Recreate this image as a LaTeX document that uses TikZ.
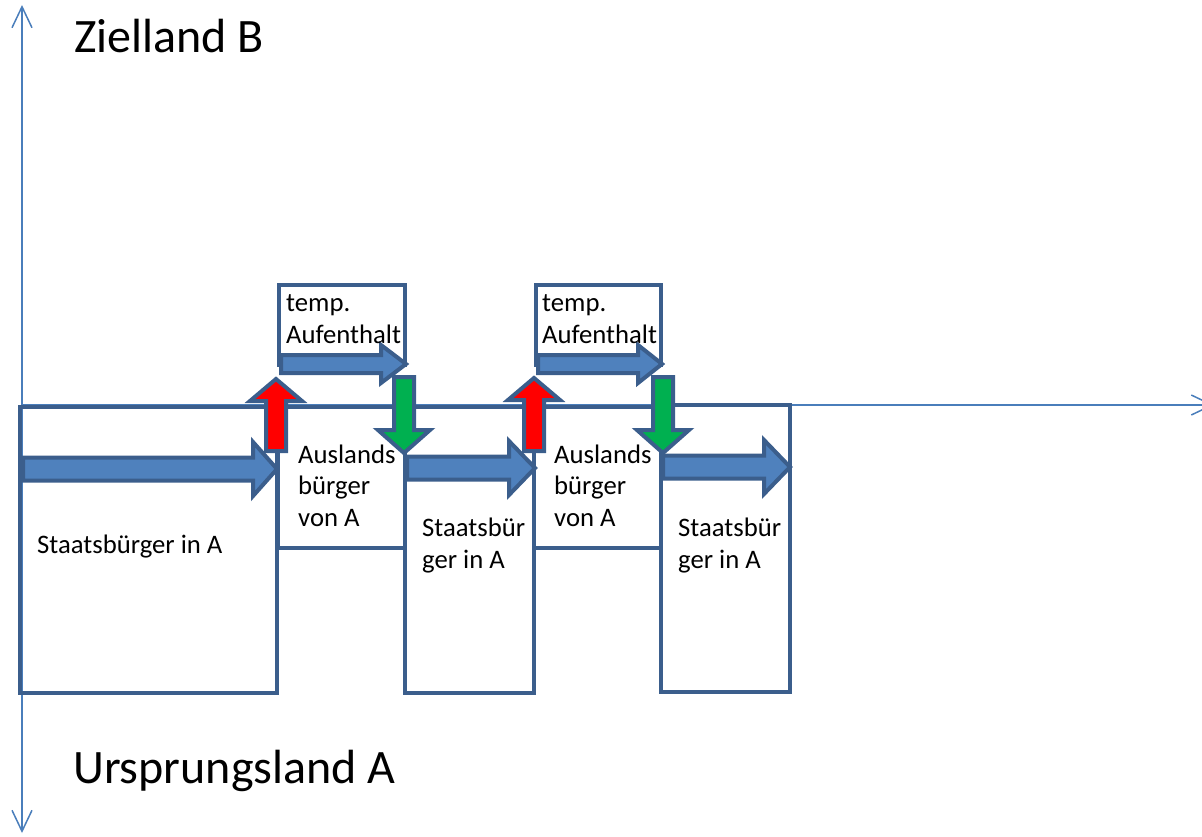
\documentclass[tikz,border=0pt]{standalone}
\usepackage{fontspec}
\setmainfont{Carlito}
\usetikzlibrary{arrows.meta}

\definecolor{axisblue}{HTML}{4A7EBB}
\definecolor{edgeblue}{HTML}{3B5E8C}
\definecolor{fillblue}{HTML}{4F81BD}
\definecolor{upred}{HTML}{FF0000}
\definecolor{downgreen}{HTML}{00B050}

% horizontal block arrow: tail x, head-base x, tip x, centre y, shaft half-width, head half-width
\newcommand\hblock[7][fillblue]{%
  \filldraw[blockarrow, fill=#1] (#2,#5-#6) -- (#3,#5-#6) -- (#3,#5-#7) -- (#4,#5)
    -- (#3,#5+#7) -- (#3,#5+#6) -- (#2,#5+#6) -- cycle;}
% vertical block arrow: centre x, tail y, head-base y, tip y, shaft half-width, head half-width
\newcommand\vblock[7][fillblue]{%
  \filldraw[blockarrow, fill=#1] (#2-#6,#3) -- (#2-#6,#4) -- (#2-#7,#4) -- (#2,#5)
    -- (#2+#7,#4) -- (#2+#6,#4) -- (#2+#6,#3) -- cycle;}

\tikzset{
  axis/.style={draw=axisblue, line width=1.5pt,
    arrows={Straight Barb[length=21pt,width=20pt]-Straight Barb[length=21pt,width=20pt]}},
  haxis/.style={draw=axisblue, line width=1.5pt,
    -{Straight Barb[length=21pt,width=20pt]}},
  stage/.style={draw=edgeblue, line width=4.5pt},
  blockarrow/.style={draw=edgeblue, line width=4pt, line join=miter},
  % multi-line labels are placed by the baseline of their last line
  label/.style={inner sep=0pt, anchor=base west, align=left,
    font=\fontsize{26.7}{31.5}\selectfont},
  country/.style={inner sep=0pt, anchor=base west,
    font=\fontsize{48}{56}\selectfont},
}

\begin{document}
\begin{tikzpicture}[x=1pt, y=-1pt]
\useasboundingbox (0,0) rectangle (1202,836);

% axes
\coordinate (top) at (22,5);
\coordinate (bottom) at (22,833);
\coordinate (origin) at (22,405);
\coordinate (right) at (1214,405);
\draw[axis] (top) -- (bottom);
\draw[haxis] (origin) -- (right);

% stages
\draw[stage] (20,407) rectangle (277,693);   % Staatsbuerger
\draw[stage] (278,407) rectangle (405,548);  % Auslandsbuerger
\draw[stage] (405,407) rectangle (534,693);  % Staatsbuerger
\draw[stage] (534,407) rectangle (661,548);  % Auslandsbuerger
\draw[stage] (661,405) rectangle (790,692);  % Staatsbuerger
\draw[stage] (279,285) rectangle (405,365);  % temp. Aufenthalt
\draw[stage] (536,285) rectangle (661,365);  % temp. Aufenthalt

% time flow
\hblock{23}{253}{277}{469}{11.5}{27}
\hblock{281}{381}{406}{364}{9}{19}
\hblock{407}{509}{535}{468}{11.5}{27}
\hblock{538}{638}{662}{364}{9}{19}
\hblock{663}{764}{790}{467}{11.5}{27}

% departures and returns
\vblock[upred]{276}{451}{401}{379}{10}{26}
\vblock[upred]{534}{451}{400}{378}{10}{26}
\vblock[downgreen]{404}{377}{430}{453}{10}{26}
\vblock[downgreen]{663}{377}{430}{453}{10}{26}

% texts
\node[country] (zb) at (74,52) {Zielland B};
\node[country] (ua) at (73,783) {Ursprungsland A};
\node[label] (s1) at (37,553) {Staatsbürger in A};
\node[label] (a1) at (298,526) {Auslands\\bürger\\von A};
\node[label] (s2) at (422,568) {Staatsbür\\ger in A};
\node[label] (a2) at (554,526) {Auslands\\bürger\\von A};
\node[label] (s3) at (678,568) {Staatsbür\\ger in A};
\node[label] (t1) at (286,343) {temp.\\Aufenthalt};
\node[label] (t2) at (542,343) {temp.\\Aufenthalt};
\end{tikzpicture}
\end{document}
